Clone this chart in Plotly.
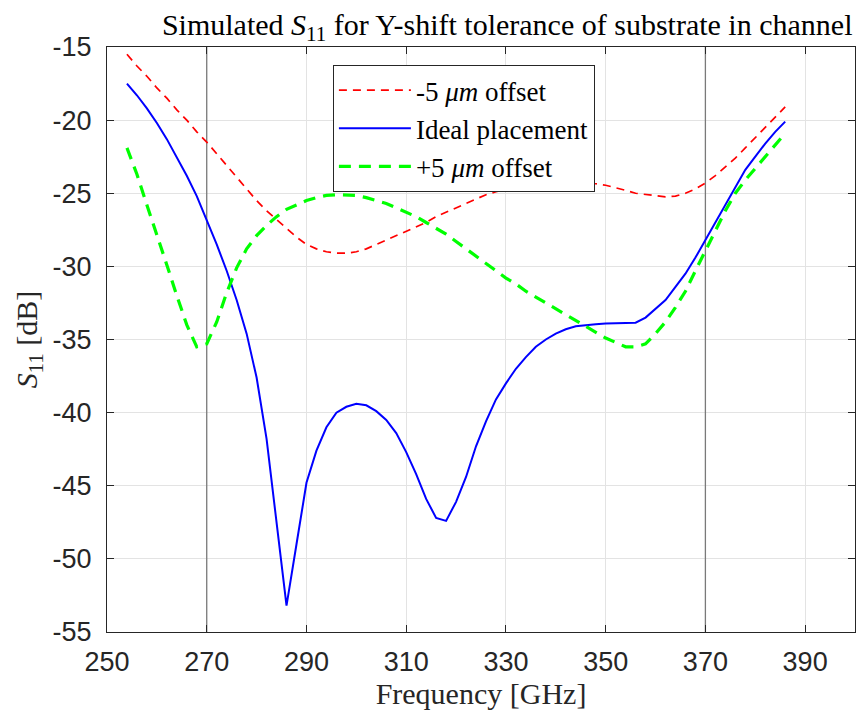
import plotly.graph_objects as go

freq = list(range(254, 387, 2))

s11_minus5 = [-15.5, -16.3, -17.0, -17.8, -18.5, -19.3, -20.0, -20.8, -21.5, -22.3,
              -23.1, -23.9, -24.7, -25.5, -26.2, -26.8, -27.4, -28.0, -28.5, -28.8,
              -29.0, -29.1, -29.1, -29.0, -28.8, -28.5, -28.2, -27.9, -27.6, -27.3,
              -27.0, -26.6, -26.3, -26.0, -25.7, -25.4, -25.1, -24.9, -24.7, -24.5,
              -24.4, -24.3, -24.2, -24.2, -24.15, -24.2, -24.25, -24.35, -24.45, -24.6,
              -24.8, -25.0, -25.1, -25.2, -25.25, -25.2, -25.0, -24.7, -24.3, -23.8,
              -23.2, -22.6, -21.9, -21.2, -20.5, -19.8, -19.1]

s11_ideal = [-17.5, -18.3, -19.2, -20.2, -21.3, -22.5, -23.8, -25.2, -26.8, -28.5,
             -30.3, -32.3, -34.6, -37.6, -41.8, -47.4, -53.2, -49.0, -44.8, -42.6,
             -41.0, -40.0, -39.6, -39.4, -39.5, -39.9, -40.5, -41.4, -42.7, -44.2,
             -45.9, -47.2, -47.4, -46.1, -44.4, -42.3, -40.6, -39.1, -38.0, -37.0,
             -36.2, -35.5, -35.0, -34.6, -34.3, -34.1, -34.0, -33.95, -33.9, -33.9,
             -33.9, -33.85, -33.5, -32.9, -32.3, -31.4, -30.5, -29.4, -28.2, -27.0,
             -25.7, -24.5, -23.4, -22.5, -21.6, -20.8, -20.1]

s11_plus5 = [-21.9, -23.7, -25.8, -27.8, -29.9, -32.0, -34.0, -35.5, -35.3, -33.8,
             -31.8, -30.1, -28.8, -27.9, -27.2, -26.6, -26.1, -25.8, -25.5, -25.3,
             -25.15, -25.1, -25.1, -25.15, -25.3, -25.5, -25.7, -26.0, -26.3, -26.6,
             -27.0, -27.4, -27.8, -28.3, -28.8, -29.3, -29.8, -30.3, -30.8, -31.2,
             -31.7, -32.1, -32.5, -32.9, -33.3, -33.7, -34.1, -34.5, -34.9, -35.2,
             -35.5, -35.5, -35.3, -34.6, -33.8, -32.8, -31.7, -30.3, -28.9, -27.5,
             -26.2, -25.0, -24.1, -23.3, -22.5, -21.7, -20.9]

x_ticks = [250, 270, 290, 310, 330, 350, 370, 390]
y_ticks = [-15, -20, -25, -30, -35, -40, -45, -50, -55]
x_range = [250, 400]
y_range = [-55, -15]
ref_lines = [270, 370]

serif = "Liberation Serif, DejaVu Serif, serif"
sans = "Liberation Sans, Arial, sans-serif"

fig = go.Figure()

# reference (band-edge) lines, drawn first so the curves sit on top
for xv in ref_lines:
    fig.add_trace(go.Scatter(x=[xv, xv], y=y_range, mode="lines",
                             line=dict(color="#7a7a7a", width=1.3),
                             showlegend=False, hoverinfo="skip"))

fig.add_trace(go.Scatter(x=freq, y=s11_minus5, mode="lines",
                         name="-5 <i>μm</i> offset",
                         line=dict(color="#ff0000", width=1.7, dash="8px,6px")))
fig.add_trace(go.Scatter(x=freq, y=s11_ideal, mode="lines",
                         name="Ideal placement",
                         line=dict(color="#0000ff", width=2)))
fig.add_trace(go.Scatter(x=freq, y=s11_plus5, mode="lines",
                         name="+5 <i>μm</i> offset",
                         line=dict(color="#00ff00", width=3.2, dash="12px,8px")))

fig.update_layout(
    width=865, height=714,
    margin=dict(l=107, r=10, t=47, b=82),
    paper_bgcolor="white", plot_bgcolor="white",
    title=dict(text="Simulated <i>S</i><sub>11</sub> for Y-shift tolerance of substrate in channel",
               x=0.535, xref="paper", xanchor="center", y=0.966, yref="container", yanchor="middle",
               font=dict(family=serif, size=30, color="black")),
    legend=dict(x=0.302, y=0.969, xanchor="left", yanchor="top",
                bgcolor="white", bordercolor="#262626", borderwidth=1,
                font=dict(family=serif, size=27, color="black"),
                tracegroupgap=0, itemwidth=72),
    showlegend=True,
)

fig.update_xaxes(range=x_range, tickvals=x_ticks, ticktext=[str(v) for v in x_ticks],
                 showgrid=True, gridcolor="#e3e3e3", gridwidth=1,
                 showline=True, linecolor="#262626", linewidth=1, mirror="ticks",
                 ticks="inside", ticklen=7, tickcolor="#262626",
                 tickfont=dict(family=sans, size=27, color="#262626"),
                 ticklabelstandoff=6,
                 zeroline=False,
                 title=dict(text="Frequency [GHz]", font=dict(family=serif, size=30, color="#262626"),
                            standoff=2))
fig.update_yaxes(range=y_range, tickvals=y_ticks, ticktext=[str(v) for v in y_ticks],
                 showgrid=True, gridcolor="#e3e3e3", gridwidth=1,
                 showline=True, linecolor="#262626", linewidth=1, mirror="ticks",
                 ticks="inside", ticklen=7, tickcolor="#262626",
                 tickfont=dict(family=sans, size=27, color="#262626"),
                 ticklabelstandoff=9,
                 zeroline=False,
                 title=dict(text="<i>S</i><sub>11</sub> [dB]", font=dict(family=serif, size=30, color="#262626"),
                            standoff=6))

fig.write_html("out.html")
